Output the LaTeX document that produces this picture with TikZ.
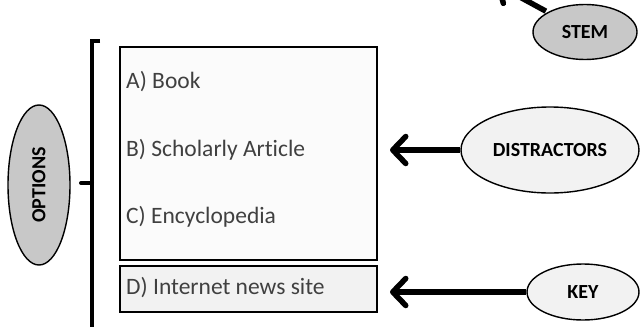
\documentclass[tikz,border=0pt]{standalone}
\usepackage{fontspec}
\setmainfont[Ligatures={NoCommon}]{Carlito}
\usetikzlibrary{arrows.meta,shapes.geometric}
\definecolor{txtgray}{HTML}{404040}
\definecolor{dkfill}{HTML}{C8C8C8}
\definecolor{ltfill}{HTML}{F2F2F2}
\definecolor{boxfill}{HTML}{FBFBFB}
\tikzset{
  lbl/.style={ellipse, draw=black, line width=1.4pt, inner sep=0pt, font=\fontsize{20}{21}\selectfont\bfseries},
  optbox/.style={draw=black, line width=1.8pt, inner sep=0pt, anchor=north west},
  opttxt/.style={anchor=west, inner sep=0pt, text=txtgray, font=\fontsize{23.5}{26}\selectfont},
  bigarrow/.style={line width=5.5pt, -{Straight Barb[round, length=13pt, width=27pt, line width=5.5pt]}},
  brack/.style={line width=4pt}
}
\begin{document}
\begin{tikzpicture}[x=1pt,y=-1pt]
\useasboundingbox (0,0) rectangle (641,327);
\clip (0,0) rectangle (641,327);
% option boxes
\node[optbox, fill=boxfill, minimum width=257pt, minimum height=213pt] (big) at (119,46) {};
\node[optbox, fill=ltfill, minimum width=257pt, minimum height=46pt] (dbox) at (119,265) {};
\node[opttxt] (a) at (126,82) {A) Book};
\node[opttxt] (b) at (126,150) {B) Scholarly Article};
\node[opttxt] (c) at (126,217) {C) Encyclopedia};
\node[opttxt] (d) at (126,288) {D) Internet news site};
% bracket
\coordinate (brtop) at (100,41);
\coordinate (brcorner) at (92,41);
\coordinate (brbot) at (92,335);
\coordinate (brmid) at (92,183);
\coordinate (brtick) at (81,183);
\draw[brack] (brtop) -- (brcorner) -- (brbot);
\draw[brack, line cap=round] (brmid) -- (brtick);
% ellipses
\node[lbl, fill=dkfill, minimum width=62pt, minimum height=160pt] (options) at (39,185) {\rotatebox{90}{OPTIONS}};
\node[lbl, fill=dkfill, minimum width=104pt, minimum height=55pt] (stem) at (585,32) {STEM};
\node[lbl, fill=ltfill, minimum width=178pt, minimum height=86pt] (distr) at (550,150) {DISTRACTORS};
\node[lbl, fill=ltfill, minimum width=112pt, minimum height=56pt] (key) at (583,292) {KEY};
% arrows
\coordinate (dtip) at (390,150);
\coordinate (ktip) at (390,292);
\coordinate (stip) at (496,-16);
\draw[bigarrow] (distr) -- (dtip);
\draw[bigarrow] (key) -- (ktip);
\draw[bigarrow, shorten <=2pt] (stem.152) -- (stip);
\end{tikzpicture}
\end{document}
